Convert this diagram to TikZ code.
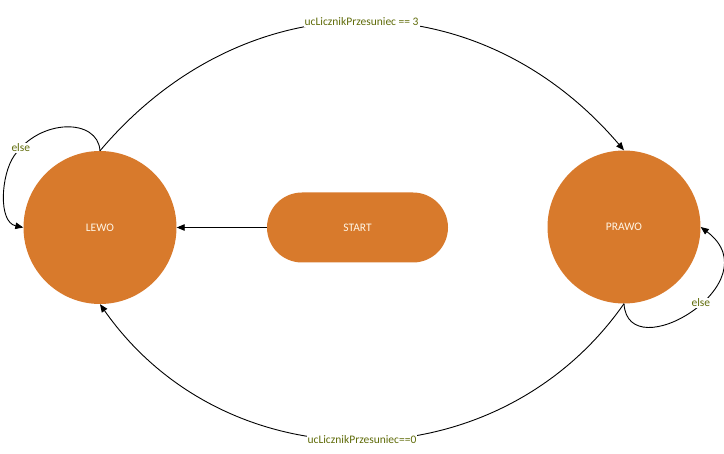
\documentclass[tikz,border=0pt]{standalone}
\usepackage{fontspec}
\setmainfont{Carlito}
\usetikzlibrary{arrows.meta}
\definecolor{orng}{RGB}{216,122,44}
\definecolor{lbltxt}{RGB}{96,108,10}
\definecolor{nodetxt}{RGB}{255,246,230}
\begin{document}
\begin{tikzpicture}[x=1pt,y=-1pt,
  state/.style={circle, fill=orng, minimum size=153pt, inner sep=0pt, text=nodetxt, font=\fontsize{11.5}{13}\selectfont},
  startbox/.style={rectangle, rounded corners=35pt, fill=orng, minimum width=181pt, minimum height=70pt, inner sep=0pt, text=nodetxt, font=\fontsize{11.5}{13}\selectfont},
  conn/.style={draw=black, line width=0.9pt, -{Triangle[length=8pt,width=6.5pt]}},
  lbl/.style={fill=white, inner sep=1pt, text=lbltxt, font=\fontsize{11.5}{13}\selectfont}
]
\useasboundingbox (0,0) rectangle (724,454);
\node[state] (lewo) at (100,227.5) {LEWO};
\node[state] (prawo) at (624,227) {PRAWO};
\node[startbox] (start) at (357.5,227.5) {START};

\draw[conn] (start.west) -- (lewo.east);
\draw[conn] (lewo.north) .. controls (245,-21) and (478,-21) .. node[lbl]{ucLicznikPrzesuniec == 3} (prawo.north);
\draw[conn] (prawo.south) .. controls (497,485) and (227,485) .. node[lbl]{ucLicznikPrzesuniec==0} (lewo.south);
\draw[conn] (lewo.north) .. controls (98,118) and (40,118) .. node[lbl,pos=0.92]{else} (14,156) .. controls (1,175) and (-2,222) .. (lewo.west);
\draw[conn] (prawo.south) .. controls (628,370) and (774,282) .. node[lbl,pos=0.56]{else} (prawo.east);
\end{tikzpicture}
\end{document}
